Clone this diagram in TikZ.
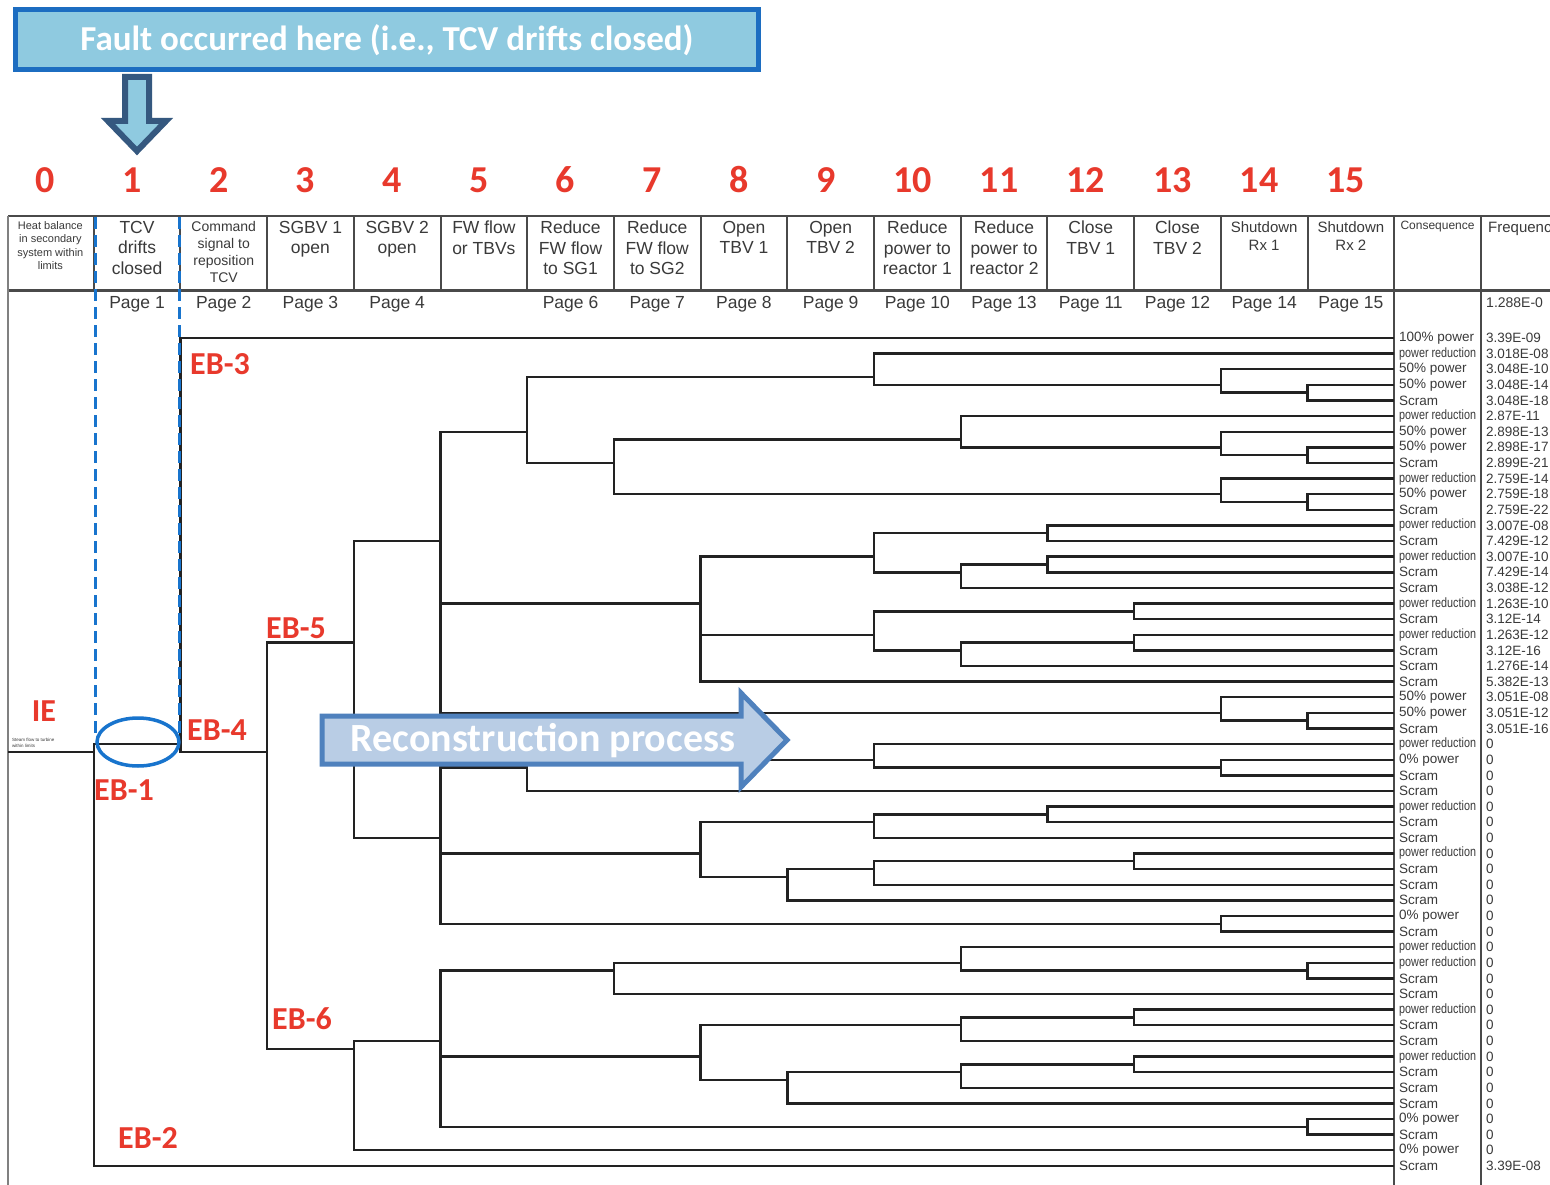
\documentclass[tikz,border=0pt]{standalone}
\usepackage{fontspec}
\setmainfont{Liberation Sans}
\newfontfamily\calibrifont{Carlito}
\usetikzlibrary{positioning}
\definecolor{ebred}{HTML}{E8392C}
\definecolor{treegray}{HTML}{222222}
\definecolor{rulegray}{HTML}{4A4A4A}
\definecolor{txtgray}{HTML}{3A3A3A}
\definecolor{faultblue}{HTML}{1C6DC1}
\definecolor{faultfill}{HTML}{8FCAE0}
\definecolor{navyedge}{HTML}{35587F}
\definecolor{dashblue}{HTML}{1874CD}
\definecolor{recfill}{HTML}{B9CDE5}
\definecolor{recedge}{HTML}{4F81BD}
% column boundary and row height of the event tree
\newcommand\cx[1]{(7+86.7*(#1))}
\newcommand\ry[2]{(338+((#1+#2)/2-1)*15.62)}
\newcommand\pwrred{\scalebox{0.8}[1]{power reduction}}
\tikzset{
	branch/.style={draw=treegray, line width=2.4pt},
	tablerule/.style={draw=rulegray, line width=2.5pt},
	hdrtext/.style={anchor=north, align=center, inner sep=0pt, text=txtgray,
			font=\fontsize{17.5}{20.5}\selectfont},
	pagetext/.style={inner sep=0pt, text=txtgray, font=\fontsize{17.5}{20}\selectfont},
	stepnum/.style={text=ebred, font=\calibrifont\bfseries\fontsize{38}{40}\selectfont},
	eblabel/.style={text=ebred, font=\calibrifont\bfseries\fontsize{32}{34}\selectfont},
	conslabel/.style={anchor=west, inner sep=0pt, text=txtgray, font=\fontsize{13.5}{14}\selectfont},
	freqlabel/.style={anchor=west, inner sep=0pt, text=txtgray, font=\fontsize{13.5}{14}\selectfont},
	faultbox/.style={draw=faultblue, fill=faultfill, line width=5pt,
			minimum width=743pt, minimum height=60pt, text=white,
			font=\calibrifont\bfseries\fontsize{35}{37}\selectfont},
	faultline/.style={draw=dashblue, line width=3pt, dash pattern=on 12pt off 6pt}
}

\begin{document}
\begin{tikzpicture}[x=1pt,y=-1pt]
	\useasboundingbox (0,0) rectangle (1550,1185);
	\clip (0,0) rectangle (1550,1185);
	\fill[white] (0,0) rectangle (1550,1185);

	% Callout box and down arrow
	\node[faultbox] (fault) at (387,40) {Fault occurred here (i.e., TCV drifts closed)};
	\draw[fill=faultfill, draw=navyedge, line width=6pt, line join=miter]
		(125,77) -- (149,77) -- (149,121) -- (166,121) -- (137,151) -- (108,121) -- (125,121) -- cycle;

	% Step numbers
	\foreach \k in {0,...,15}
		\node[stepnum] (num\k) at ({\cx{\k+0.5}-5},180) {\k};

	% Table rules
	\draw[tablerule] (8,216) -- (1550,216);
	\draw[tablerule, line width=3pt] (8,290) -- (1550,290);
	\draw[draw=gray, line width=2pt] (8,216) -- (8,1185);
	\foreach \k in {1,...,17}
		\draw[draw=rulegray, line width=2pt] ({\cx{\k}},216) -- ({\cx{\k}},290);
	\draw[tablerule] ({\cx{16}},290) -- ({\cx{16}},1185);
	\draw[tablerule] ({\cx{17}},290) -- ({\cx{17}},1185);

	% Column headings
	\node[hdrtext, font=\fontsize{11}{13.5}\selectfont] (h0) at ({\cx{0.5}},221)
		{Heat balance\\in secondary\\system within\\limits};
	\node[hdrtext] (h1) at ({\cx{1.5}},221) {TCV\\drifts\\closed};
	\node[hdrtext, font=\fontsize{14}{17}\selectfont] (h2) at ({\cx{2.5}},221)
		{Command\\signal to\\reposition\\TCV};
	\foreach \k/\txt in {3/SGBV 1\\open, 4/SGBV 2\\open, 5/FW flow\\or TBVs,
			6/Reduce\\FW flow\\to SG1, 7/Reduce\\FW flow\\to SG2, 8/Open\\TBV 1,
			9/Open\\TBV 2, 10/Reduce\\power to\\reactor 1, 11/Reduce\\power to\\reactor 2,
			12/Close\\TBV 1, 13/Close\\TBV 2}
		\node[hdrtext] (h\k) at ({\cx{\k+0.5}},221) {\txt};
	\node[hdrtext, font=\fontsize{15}{18}\selectfont] (h14) at ({\cx{14.5}},221) {Shutdown\\Rx 1};
	\node[hdrtext, font=\fontsize{15}{18}\selectfont] (h15) at ({\cx{15.5}},221) {Shutdown\\Rx 2};
	\node[hdrtext, font=\fontsize{12}{14}\selectfont] (h16) at ({\cx{16.5}},221) {Consequence};
	\node[hdrtext, anchor=north west, font=\fontsize{15}{18}\selectfont] (h17) at (1488,222) {Frequenc};

	% Page references
	\foreach \k/\p in {1/1, 2/2, 3/3, 4/4, 6/6, 7/7, 8/8, 9/9, 10/10, 11/13, 12/11, 13/12, 14/14, 15/15}
		\node[pagetext] (p\k) at ({\cx{\k+0.5}},304) {Page \p};
	\node[freqlabel, font=\fontsize{14}{15}\selectfont] (ftop) at (1486,303) {1.288E-0};

	% Tree nodes: column / first leaf / last leaf
	\coordinate (ie) at (8,{\ry{1}{54}});
	\foreach \c/\a/\b in {1/1/54, 2/1/53, 3/2/53, 4/2/39, 4/40/53, 5/2/26, 5/27/39, 5/40/52,
			6/2/12, 8/13/23, 14/24/26, 10/2/5, 14/3/5, 15/4/5, 7/6/12, 11/6/9, 14/7/9,
			15/8/9, 14/10/12, 15/11/12, 10/13/17, 12/13/14, 11/15/17, 12/15/16,
			10/18/22, 13/18/19, 11/20/22, 13/20/21, 15/25/26, 6/27/30, 10/27/29,
			14/28/29, 8/31/37, 10/31/33, 12/31/32, 9/34/37, 10/34/36, 13/34/35,
			14/38/39, 7/40/43, 11/40/42, 15/41/42, 8/44/50, 11/44/46, 13/44/45,
			9/47/50, 11/47/49, 13/47/48, 15/51/52}
		\coordinate (n\a-\b) at ({\cx{\c}},{\ry{\a}{\b}});
	\foreach \r in {1,...,54}
		\coordinate (l\r) at ({\cx{16}},{\ry{\r}{\r}});

	% Branches
	\draw[branch] (ie) -- (n1-54);
	\foreach \p/\q in {n1-54/n1-53, n1-54/l54, n1-53/l1, n1-53/n2-53,
			n2-53/n2-39, n2-53/n40-53, n2-39/n2-26, n2-39/n27-39,
			n2-26/n2-12, n2-26/n13-23, n2-26/n24-26,
			n2-12/n2-5, n2-12/n6-12, n2-5/l2, n2-5/n3-5, n3-5/l3, n3-5/n4-5,
			n4-5/l4, n4-5/l5, n6-12/n6-9, n6-12/n10-12, n6-9/l6, n6-9/n7-9,
			n7-9/l7, n7-9/n8-9, n8-9/l8, n8-9/l9, n10-12/l10, n10-12/n11-12,
			n11-12/l11, n11-12/l12,
			n13-23/n13-17, n13-23/n18-22, n13-23/l23, n13-17/n13-14, n13-17/n15-17,
			n13-14/l13, n13-14/l14, n15-17/n15-16, n15-17/l17, n15-16/l15, n15-16/l16,
			n18-22/n18-19, n18-22/n20-22, n18-19/l18, n18-19/l19,
			n20-22/n20-21, n20-22/l22, n20-21/l20, n20-21/l21,
			n24-26/l24, n24-26/n25-26, n25-26/l25, n25-26/l26,
			n27-39/n27-30, n27-39/n31-37, n27-39/n38-39,
			n27-30/n27-29, n27-30/l30, n27-29/l27, n27-29/n28-29, n28-29/l28, n28-29/l29,
			n31-37/n31-33, n31-37/n34-37, n31-33/n31-32, n31-33/l33, n31-32/l31, n31-32/l32,
			n34-37/n34-36, n34-37/l37, n34-36/n34-35, n34-36/l36, n34-35/l34, n34-35/l35,
			n38-39/l38, n38-39/l39,
			n40-53/n40-52, n40-53/l53, n40-52/n40-43, n40-52/n44-50, n40-52/n51-52,
			n40-43/n40-42, n40-43/l43, n40-42/l40, n40-42/n41-42, n41-42/l41, n41-42/l42,
			n44-50/n44-46, n44-50/n47-50, n44-46/n44-45, n44-46/l46, n44-45/l44, n44-45/l45,
			n47-50/n47-49, n47-50/l50, n47-49/n47-48, n47-49/l49, n47-48/l47, n47-48/l48,
			n51-52/l51, n51-52/l52}
		\draw[branch] (\p) |- (\q);

	% Consequences and frequencies
	\foreach \r/\lab/\fq in {1/100\% power/3.39E-09, 2/\pwrred/3.018E-08,
			3/50\% power/3.048E-10, 4/50\% power/3.048E-14, 5/Scram/3.048E-18,
			6/\pwrred/2.87E-11, 7/50\% power/2.898E-13, 8/50\% power/2.898E-17,
			9/Scram/2.899E-21, 10/\pwrred/2.759E-14, 11/50\% power/2.759E-18,
			12/Scram/2.759E-22, 13/\pwrred/3.007E-08, 14/Scram/7.429E-12,
			15/\pwrred/3.007E-10, 16/Scram/7.429E-14, 17/Scram/3.038E-12,
			18/\pwrred/1.263E-10, 19/Scram/3.12E-14, 20/\pwrred/1.263E-12,
			21/Scram/3.12E-16, 22/Scram/1.276E-14, 23/Scram/5.382E-13,
			24/50\% power/3.051E-08, 25/50\% power/3.051E-12, 26/Scram/3.051E-16,
			27/\pwrred/0, 28/0\% power/0, 29/Scram/0, 30/Scram/0, 31/\pwrred/0,
			32/Scram/0, 33/Scram/0, 34/\pwrred/0, 35/Scram/0, 36/Scram/0, 37/Scram/0,
			38/0\% power/0, 39/Scram/0, 40/\pwrred/0, 41/\pwrred/0, 42/Scram/0,
			43/Scram/0, 44/\pwrred/0, 45/Scram/0, 46/Scram/0, 47/\pwrred/0,
			48/Scram/0, 49/Scram/0, 50/Scram/0, 51/0\% power/0, 52/Scram/0,
			53/0\% power/0, 54/Scram/3.39E-08}
		{
			\node[conslabel] (c\r) at (1399,{\ry{\r}{\r}}) {\lab};
			\node[freqlabel] (f\r) at (1486,{\ry{\r}{\r}}) {\fq};
		}

	% Fault column marking
	\draw[faultline] (95,217) -- (95,733);
	\draw[faultline] (179,217) -- (179,733);
	\draw[draw=dashblue, line width=3.5pt] (138,742) ellipse [x radius=41pt, y radius=24pt];
	\node[anchor=west, inner sep=0pt, align=left, text=txtgray,
		font=\fontsize{4.5}{5.5}\selectfont] (ienote) at (12,743)
		{Steam flow to turbine\\within limits};

	% Reconstruction arrow
	\draw[fill=recfill, draw=recedge, line width=5pt, line join=miter]
		(322,716) -- (741,716) -- (741,693) -- (787,740) -- (741,787) -- (741,764) -- (322,764) -- cycle;
	\node[text=white, font=\calibrifont\bfseries\fontsize{40}{42}\selectfont] (recon) at (543,741)
		{Reconstruction process};

	% Event labels
	\node[eblabel] (ielab) at (44,711) {IE};
	\node[eblabel] (eb1) at (124,790) {EB-1};
	\node[eblabel] (eb2) at (148,1138) {EB-2};
	\node[eblabel] (eb3) at (220,364) {EB-3};
	\node[eblabel] (eb4) at (217,730) {EB-4};
	\node[eblabel] (eb5) at (296,628) {EB-5};
	\node[eblabel] (eb6) at (302,1019) {EB-6};
\end{tikzpicture}
\end{document}
